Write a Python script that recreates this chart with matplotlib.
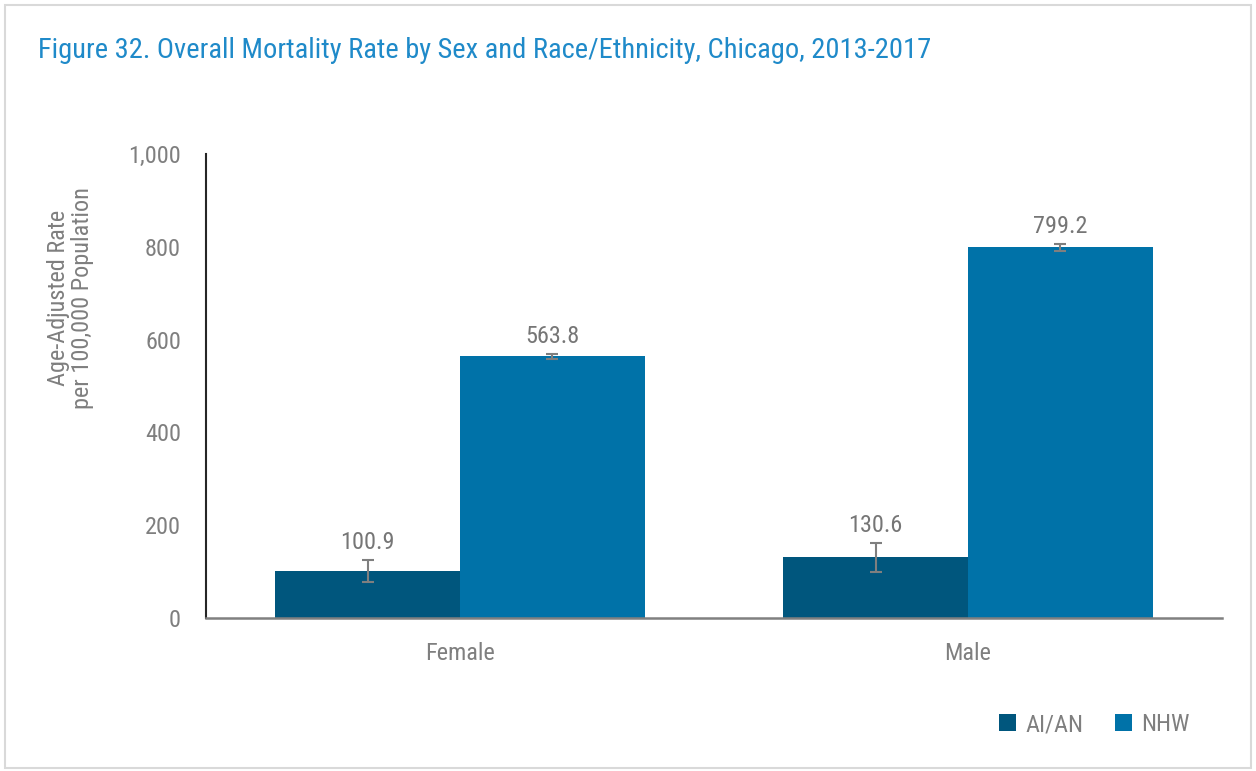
import matplotlib.pyplot as plt
import numpy as np
from matplotlib.patches import Rectangle

plt.rcParams['font.family'] = ['Roboto Condensed', 'Liberation Sans Narrow', 'Roboto', 'DejaVu Sans']

sexes = ['Female', 'Male']
groups = ['AI/AN', 'NHW']
rates = {'AI/AN': [100.9, 130.6], 'NHW': [563.8, 799.2]}
lower = {'AI/AN': [77.6, 99.8], 'NHW': [558.5, 791.5]}
upper = {'AI/AN': [125.0, 162.3], 'NHW': [569.0, 807.0]}
colors = {'AI/AN': '#00567d', 'NHW': '#0072a8'}

gray = '#7f7f7f'

fig = plt.figure(figsize=(12.56, 7.71), dpi=100)
fig.patches.append(Rectangle((0.004, 0.004), 0.992, 0.99, transform=fig.transFigure,
                             fill=False, edgecolor='#d9d9d9', linewidth=1.5))
ax = fig.add_axes([206 / 1256, 1 - 618 / 771, 1016 / 1256, 464 / 771])

x = np.arange(len(sexes))
w = 0.364
for i, g in enumerate(groups):
    pos = x + (i - 0.5) * w
    vals = np.array(rates[g])
    err = [vals - np.array(lower[g]), np.array(upper[g]) - vals]
    ax.bar(pos, vals, width=w, color=colors[g], label=g, edgecolor='none')
    ax.errorbar(pos, vals, yerr=err, fmt='none', ecolor=gray, elinewidth=1.5,
                capsize=4.5, capthick=1.5)
    for p, v, u in zip(pos, vals, upper[g]):
        ax.text(p, u + 12, f'{v:.1f}', ha='center', va='bottom', fontsize=17.5, color='#767676')

ax.set_xlim(-0.5, 1.5)
ax.set_ylim(0, 1000)
ax.set_yticks(range(0, 1001, 200))
ax.set_yticklabels([f'{t:,}' for t in range(0, 1001, 200)])
ax.set_xticks(x)
ax.set_xticklabels(sexes)
ax.tick_params(axis='both', labelsize=17.5, labelcolor=gray, length=0)
ax.tick_params(axis='y', pad=18)
ax.tick_params(axis='x', pad=17)
for s in ['top', 'right']:
    ax.spines[s].set_visible(False)
ax.spines['left'].set_color('#262626')
ax.spines['bottom'].set_color('#808080')
ax.spines['left'].set_linewidth(1.5)
ax.spines['bottom'].set_linewidth(1.8)

ax.set_ylabel('Age-Adjusted Rate\nper 100,000 Population', fontsize=17.5, color=gray,
              linespacing=1.05)
ax.yaxis.set_label_coords(-0.11, 0.69)

fig.text(38 / 1256, 1 - 50 / 771, 'Figure 32. Overall Mortality Rate by Sex and Race/Ethnicity, Chicago, 2013-2017',
         fontsize=20.5, color='#1f8ac9', va='center', ha='left')

leg = ax.legend(loc='lower right', bbox_to_anchor=(1212 / 1256, 1 - 758 / 771),
                bbox_transform=fig.transFigure, ncol=2, frameon=False, fontsize=17.5,
                handlelength=0.7, handleheight=0.7, handletextpad=0.4, columnspacing=1.3)
for t in leg.get_texts():
    t.set_color(gray)

fig.savefig('out.png', dpi=100)
